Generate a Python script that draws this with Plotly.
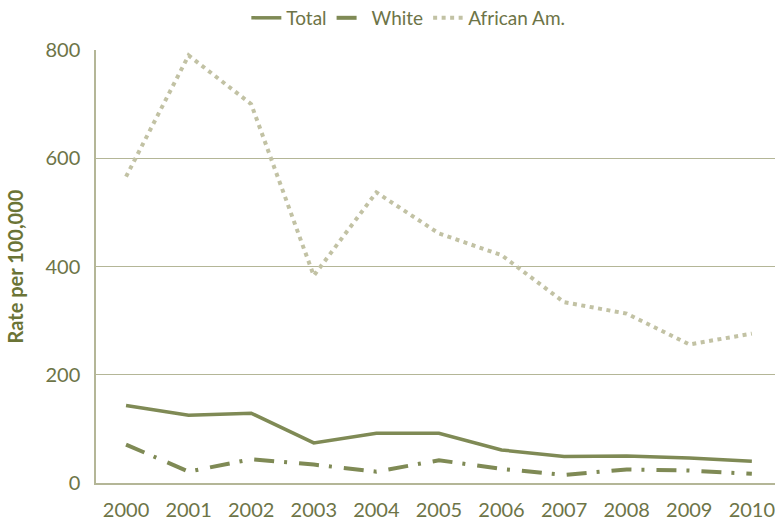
import plotly.graph_objects as go

# -- Data ----------------------------------------------------------------
years = ["2000", "2001", "2002", "2003", "2004", "2005",
         "2006", "2007", "2008", "2009", "2010"]
total = [143, 125, 129, 74, 92, 92, 61, 49, 50, 46, 40]
white = [71, 21, 44, 34, 21, 42, 26, 15, 25, 23, 17]
african_am = [566, 790, 700, 383, 537, 461, 421, 334, 313, 256, 276]

OLIVE = "#7f8a55"
LIGHT = "#c2c2a4"
GRID = "#b4b697"
TEXT = "#6d7447"
FONT = "Lato, 'Open Sans', sans-serif"

fig = go.Figure()

fig.add_trace(go.Scatter(
    x=years, y=total, name="Total", mode="lines",
    line=dict(color=OLIVE, width=3.5),
))
fig.add_trace(go.Scatter(
    x=years, y=white, name="White", mode="lines",
    line=dict(color=OLIVE, width=4, dash="20px,10px,3px,12px"),
))
fig.add_trace(go.Scatter(
    x=years, y=african_am, name="African Am.", mode="lines",
    line=dict(color=LIGHT, width=4, dash="4px,4.5px"),
))

fig.update_layout(
    width=775, height=520,
    margin=dict(l=96, r=0, t=50, b=37, autoexpand=False),
    paper_bgcolor="white", plot_bgcolor="white",
    font=dict(family=FONT, color=TEXT, size=18),
    showlegend=True,
    legend=dict(
        orientation="h",
        x=0.46, xanchor="center", y=1.074, yanchor="middle",
        font=dict(size=19, color=TEXT), itemwidth=30,
        tracegroupgap=0, bgcolor="rgba(0,0,0,0)",
    ),
    xaxis=dict(
        type="category", range=[-0.48, 10.37],
        showgrid=False, showline=True, linecolor=GRID, linewidth=1.5,
        ticks="", ticklabelstandoff=8,
        tickfont=dict(size=20, color=TEXT),
        fixedrange=True,
    ),
    yaxis=dict(
        range=[0, 800], tickvals=[0, 200, 400, 600, 800],
        showgrid=True, gridcolor=GRID, gridwidth=1.2,
        showline=True, linecolor=GRID, linewidth=1.5,
        zeroline=False, ticks="", ticklabelstandoff=10,
        tickfont=dict(size=20, color=TEXT),
        title=dict(text="<b>Rate per 100,000</b>", standoff=16,
                   font=dict(size=20, color="#6b7436")),
    ),
)

# page body has a default 8px margin; drop it so the chart fills the window
fig.write_html(
    "out.html",
    config={"displayModeBar": False},
    post_script="document.body.style.margin='0';",
)
